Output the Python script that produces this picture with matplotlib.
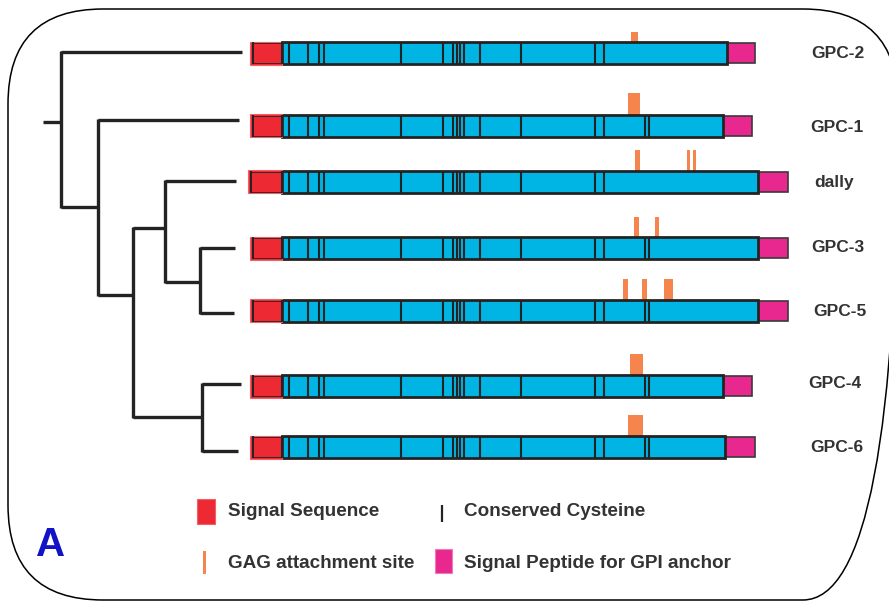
import matplotlib.pyplot as plt
from matplotlib.patches import Rectangle, FancyBboxPatch

# everything is in picture pixels (x right, y down)
names = ['GPC-2', 'GPC-1', 'dally', 'GPC-3', 'GPC-5', 'GPC-4', 'GPC-6']
bar_y = [53, 125.5, 181.5, 248, 310.5, 386, 447]
label_x = [811, 810, 814, 811, 813, 808, 810]
label_y = [54, 128, 183, 248, 312, 383, 447]
red_start = [250, 250, 248, 250, 250, 250, 250]
red_end = 282
blue_end = [727, 723, 758, 758, 758, 723, 725]
pink_end = [755, 752, 788, 788, 788, 752, 755]

cys_common = [289, 307.5, 319, 324, 401, 443, 453, 457, 460, 464, 480, 521, 595, 604]
cys_extra = [645, 649]
has_extra = [False, True, False, True, True, True, True]

gag_top = [32, 93, 150, 217, 279, 354, 415]
gag_sites = [
    [(631, 638)],
    [(628, 640)],
    [(635, 640), (687, 690), (693, 696)],
    [(634, 639), (655, 659)],
    [(623, 628), (642, 647), (664, 673)],
    [(630, 643)],
    [(628, 643)],
]

# tree: leaf branch y and tip x, internal nodes (x, y where it hangs off its parent)
leaf_y = dict(zip(names, [52, 120, 181, 248, 313, 384, 451]))
leaf_tip = dict(zip(names, [242, 239, 236, 235, 234, 241, 238]))
node_x = {'A': 61, 'B': 98, 'C': 133, 'D': 165, 'E': 200, 'F': 201.5}
node_y = {'A': 121.7, 'B': 206.7, 'C': 295, 'D': 227.7, 'E': 281.7, 'F': 416.7}
children = {'A': ['GPC-2', 'B'], 'B': ['GPC-1', 'C'], 'C': ['D', 'F'],
            'D': ['dally', 'E'], 'E': ['GPC-3', 'GPC-5'], 'F': ['GPC-4', 'GPC-6']}
root_x = 43

legend_labels = ['Signal Sequence', 'Conserved Cysteine', 'GAG attachment site',
                 'Signal Peptide for GPI anchor']

RED = '#ED2A33'
BLUE = '#00B4E3'
PINK = '#E8288F'
ORANGE = '#F5854C'
DARK = '#232323'
TXT = '#333333'

fig = plt.figure(figsize=(8.89, 6.01), dpi=100)
ax = fig.add_axes([0, 0, 1, 1])
ax.set_xlim(0, 889)
ax.set_ylim(601, 0)
ax.axis('off')

# rounded frame
ax.add_patch(FancyBboxPatch((8, 9), 890, 591, boxstyle='round,pad=0,rounding_size=95',
                            fc='none', ec='black', lw=1.1))

# tree
tree_lw = 2.4
ax.plot([root_x, node_x['A']], [node_y['A'], node_y['A']], color=DARK, lw=tree_lw,
        solid_capstyle='butt')
for n, kids in children.items():
    ys = []
    for k in kids:
        if k in node_x:
            ky, kx = node_y[k], node_x[k]
        else:
            ky, kx = leaf_y[k], leaf_tip[k]
        ys.append(ky)
        ax.plot([node_x[n], kx], [ky, ky], color=DARK, lw=tree_lw, solid_capstyle='butt')
    ax.plot([node_x[n], node_x[n]], [min(ys) - 1, max(ys) + 1], color=DARK, lw=tree_lw,
            solid_capstyle='butt')

# protein bars
h = 22
for i, name in enumerate(names):
    top = bar_y[i] - h / 2
    # GAG sites
    for x0, x1 in gag_sites[i]:
        ax.add_patch(Rectangle((x0, gag_top[i]), x1 - x0, top - gag_top[i] + 1,
                               fc=ORANGE, ec='none', zorder=2))
    # pink GPI tail
    ax.add_patch(Rectangle((blue_end[i], top + 1), pink_end[i] - blue_end[i], h - 2,
                           fc=PINK, ec='#3a3a3a', lw=1.2, zorder=3))
    # blue body
    ax.add_patch(Rectangle((red_end, top), blue_end[i] - red_end, h,
                           fc=BLUE, ec=DARK, lw=2.0, zorder=4))
    # red signal sequence
    ax.add_patch(Rectangle((red_start[i], top - 0.5), red_end - red_start[i], h + 1,
                           fc=RED, ec='#f06068', lw=0.8, zorder=5))
    ax.plot([red_start[i] + 2.5] * 2, [top + 1, top + h - 1], color=DARK, lw=1.4, zorder=6)
    ax.plot([red_start[i] + 2.5, red_end], [top + 1, top + 1], color=DARK, lw=0.6, zorder=6)
    ax.plot([red_start[i] + 2.5, red_end], [top + h - 1, top + h - 1], color=DARK, lw=0.6, zorder=6)
    # conserved cysteines
    cys = cys_common + (cys_extra if has_extra[i] else [])
    ax.vlines(cys, top, top + h, colors=DARK, lw=1.5, zorder=6)
    ax.vlines([red_end], top, top + h, colors=DARK, lw=1.5, zorder=6)
    ax.text(label_x[i], label_y[i], name, ha='left', va='center', fontsize=12.5,
            fontweight='bold', family='Liberation Sans', color=TXT)

# legend
ax.add_patch(Rectangle((197, 499), 18, 25, fc=RED, ec='#f06068', lw=0.8))
ax.vlines([442], 505, 522, colors=DARK, lw=1.6)
ax.add_patch(Rectangle((203, 551), 3, 23, fc=ORANGE, ec='none'))
ax.add_patch(Rectangle((435, 549), 17, 24, fc=PINK, ec='#f07ab8', lw=0.8))
leg_pos = [(228, 512), (464, 512), (228, 563), (464, 563)]
for (lx, ly), lab in zip(leg_pos, legend_labels):
    ax.text(lx, ly, lab, ha='left', va='center', fontsize=13.6, fontweight='bold',
            family='Liberation Sans', color=TXT)

ax.text(36, 545, 'A', ha='left', va='center', fontsize=29, fontweight='bold',
        family='Liberation Sans', color='#1212C6')

fig.savefig('out.png', dpi=100)
